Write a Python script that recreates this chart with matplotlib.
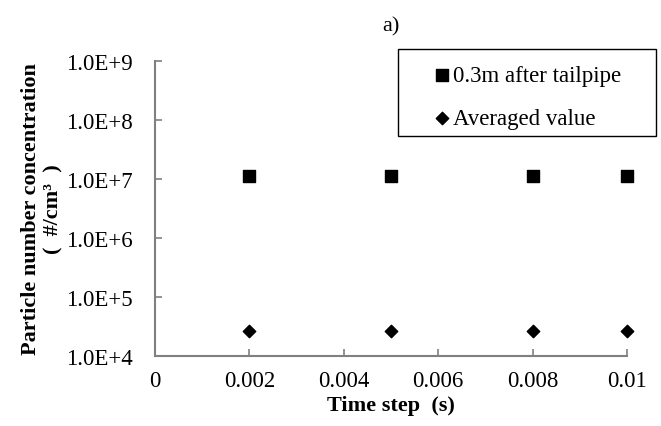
import matplotlib
matplotlib.use("Agg")
import matplotlib.pyplot as plt
from matplotlib.patches import Rectangle

plt.rcParams['font.family'] = ['Liberation Serif', 'DejaVu Serif']

time_steps = [0.002, 0.005, 0.008, 0.01]
tailpipe = [1.1e7, 1.1e7, 1.1e7, 1.1e7]
averaged = [2.6e4, 2.6e4, 2.6e4, 2.6e4]

x_ticks = [0, 0.002, 0.004, 0.006, 0.008, 0.01]
x_labels = ['0', '0.002', '0.004', '0.006', '0.008', '0.01']
y_ticks = [1e4, 1e5, 1e6, 1e7, 1e8, 1e9]
y_labels = ['1.0E+4', '1.0E+5', '1.0E+6', '1.0E+7', '1.0E+8', '1.0E+9']

fig = plt.figure(figsize=(6.61, 4.27), dpi=100)
ax = fig.add_axes([0.2345, 0.164, 0.714, 0.691])

ax.scatter(time_steps, tailpipe, marker='s', s=80, color='black', label='0.3m after tailpipe',
           zorder=3, clip_on=False)
ax.scatter(time_steps, averaged, marker='D', s=40, color='black', label='Averaged value',
           zorder=3, clip_on=False)

ax.set_yscale('log')
ax.set_xlim(0, 0.01)
ax.set_ylim(1e4, 1e9)
ax.set_xticks(x_ticks)
ax.set_xticklabels(x_labels)
ax.set_yticks(y_ticks)
ax.set_yticklabels(y_labels)
ax.minorticks_off()

for side in ['top', 'right']:
    ax.spines[side].set_visible(False)
for side in ['left', 'bottom']:
    ax.spines[side].set_color('#808080')
    ax.spines[side].set_linewidth(1.5)
ax.tick_params(direction='in', length=5, width=1.2, color='#808080', labelsize=16.5)
ax.tick_params(axis='y', pad=16)
ax.tick_params(axis='x', pad=10)

ax.set_xlabel('Time step  (s)', fontsize=16, fontweight='bold', labelpad=3)
ax.set_ylabel('Particle number concentration\n(  #/cm³  )', fontsize=16, fontweight='bold',
              labelpad=2, linespacing=1.15)
ax.set_title('a)', fontsize=16, pad=22)

# legend box drawn separately so the wide side padding matches
fig.patches.append(Rectangle((0.602, 0.679), 0.390, 0.204, transform=fig.transFigure,
                             fill=False, edgecolor='black', linewidth=1.0))
leg = ax.legend(loc='upper left', bbox_to_anchor=(0.638, 0.872), bbox_transform=fig.transFigure,
                frameon=False, fontsize=16.5, handletextpad=0.05, handlelength=0.8,
                labelspacing=0.95, borderpad=0)

fig.savefig('out.png', dpi=100)
